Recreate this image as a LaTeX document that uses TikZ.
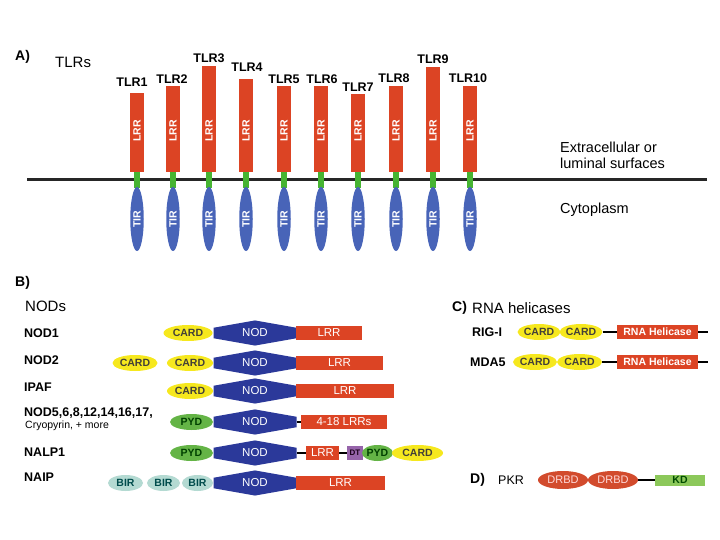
\documentclass[tikz,border=0pt]{standalone}
\usepackage{fontspec}
\setmainfont{Liberation Sans}
\usetikzlibrary{shapes.geometric,shapes.symbols}

\definecolor{lrrred}{RGB}{220,68,36}
\definecolor{nodblue}{RGB}{43,57,154}
\definecolor{tirblue}{RGB}{72,100,184}
\definecolor{tmgreen}{RGB}{70,180,50}
\definecolor{cardyellow}{RGB}{246,232,30}
\definecolor{pydgreen}{RGB}{100,180,70}
\definecolor{birteal}{RGB}{180,218,210}
\definecolor{dtpurple}{RGB}{150,100,170}
\definecolor{kdgreen}{RGB}{140,200,90}
\definecolor{drbdred}{RGB}{210,75,45}

\tikzstyle{head} = [anchor=west, inner sep=0pt, font=\bfseries\fontsize{14}{16}\selectfont]
\tikzstyle{title} = [anchor=west, inner sep=0pt, font=\fontsize{15}{17}\selectfont]
\tikzstyle{tlrname} = [inner sep=0pt, font=\bfseries\fontsize{12.5}{14}\selectfont]
\tikzstyle{rowname} = [anchor=west, inner sep=0pt, font=\bfseries\fontsize{12.5}{15}\selectfont]
\tikzstyle{lrr} = [rectangle, fill=lrrred, minimum width=14pt, inner sep=0pt, anchor=south]
\tikzstyle{vtext} = [rotate=90, inner sep=0pt, text=white, font=\bfseries\fontsize{10.5}{11}\selectfont]
\tikzstyle{tm} = [rectangle, fill=tmgreen, minimum width=6.5pt, minimum height=16pt, inner sep=0pt]
\tikzstyle{tir} = [ellipse, fill=tirblue, minimum width=64pt, minimum height=13.5pt, inner sep=0pt, rotate=90, text=white, font=\bfseries\fontsize{10.5}{11}\selectfont]
\tikzstyle{dom} = [inner sep=0pt, font=\bfseries\fontsize{10.5}{12}\selectfont]
\tikzstyle{card} = [dom, ellipse, fill=cardyellow, minimum height=16pt, text=black!85!yellow]
\tikzstyle{pyd} = [dom, ellipse, fill=pydgreen, minimum height=16pt, text=black!75!green]
\tikzstyle{bir} = [dom, ellipse, fill=birteal, minimum height=16pt, text=teal!60!black]
\tikzstyle{nod} = [dom, signal, signal to=north and south, signal pointer angle=160, fill=nodblue, minimum width=83pt, minimum height=15pt, text=white, font=\fontsize{11.5}{12}\selectfont]
\tikzstyle{box} = [dom, rectangle, fill=lrrred, minimum height=14pt, text=white, font=\fontsize{11.5}{12}\selectfont]
\tikzstyle{link} = [line width=2.5pt, black]

\begin{document}
\begin{tikzpicture}[x=1pt, y=-1pt]
	\useasboundingbox (0,0) rectangle (720,540);
	% A) TLRs
	\node[head] (la) at (15,57) {A)};
	\node[title] (tlrs) at (55,62) {TLRs};
	\coordinate (memL) at (27,180);
	\coordinate (memR) at (707,180);
	\draw[line width=3pt, black!85] (memL) -- (memR);
	\node[title, align=left, font=\fontsize{14.5}{16}\selectfont] (extra) at (560,155) {Extracellular or\\luminal surfaces};
	\node[title, font=\fontsize{14.5}{16}\selectfont] (cyto) at (560,210) {Cytoplasm};

	\node[lrr, minimum height=79pt] (t1) at (137,172) {};
	\node[vtext] (t1txt) at (137,131) {LRR};
	\node[tm] (t1tm) at (137,180) {};
	\node[tir] (t1tir) at (137,219) {TIR};
	\node[tlrname] (t1lab) at (132,82) {TLR1};

	\node[lrr, minimum height=86pt] (t2) at (173,172) {};
	\node[vtext] (t2txt) at (173,131) {LRR};
	\node[tm] (t2tm) at (173,180) {};
	\node[tir] (t2tir) at (173,219) {TIR};
	\node[tlrname] (t2lab) at (172,79) {TLR2};

	\node[lrr, minimum height=106pt] (t3) at (209,172) {};
	\node[vtext] (t3txt) at (209,131) {LRR};
	\node[tm] (t3tm) at (209,180) {};
	\node[tir] (t3tir) at (209,219) {TIR};
	\node[tlrname] (t3lab) at (209,58) {TLR3};

	\node[lrr, minimum height=93pt] (t4) at (246,172) {};
	\node[vtext] (t4txt) at (246,131) {LRR};
	\node[tm] (t4tm) at (246,180) {};
	\node[tir] (t4tir) at (246,219) {TIR};
	\node[tlrname] (t4lab) at (247,67) {TLR4};

	\node[lrr, minimum height=86pt] (t5) at (284,172) {};
	\node[vtext] (t5txt) at (284,131) {LRR};
	\node[tm] (t5tm) at (284,180) {};
	\node[tir] (t5tir) at (284,219) {TIR};
	\node[tlrname] (t5lab) at (284,79) {TLR5};

	\node[lrr, minimum height=86pt] (t6) at (321,172) {};
	\node[vtext] (t6txt) at (321,131) {LRR};
	\node[tm] (t6tm) at (321,180) {};
	\node[tir] (t6tir) at (321,219) {TIR};
	\node[tlrname] (t6lab) at (322,79) {TLR6};

	\node[lrr, minimum height=78pt] (t7) at (358,172) {};
	\node[vtext] (t7txt) at (358,131) {LRR};
	\node[tm] (t7tm) at (358,180) {};
	\node[tir] (t7tir) at (358,219) {TIR};
	\node[tlrname] (t7lab) at (358,87) {TLR7};

	\node[lrr, minimum height=86pt] (t8) at (396,172) {};
	\node[vtext] (t8txt) at (396,131) {LRR};
	\node[tm] (t8tm) at (396,180) {};
	\node[tir] (t8tir) at (396,219) {TIR};
	\node[tlrname] (t8lab) at (394,78) {TLR8};

	\node[lrr, minimum height=105pt] (t9) at (433,172) {};
	\node[vtext] (t9txt) at (433,131) {LRR};
	\node[tm] (t9tm) at (433,180) {};
	\node[tir] (t9tir) at (433,219) {TIR};
	\node[tlrname] (t9lab) at (433,59) {TLR9};

	\node[lrr, minimum height=86pt] (t10) at (470,172) {};
	\node[vtext] (t10txt) at (470,131) {LRR};
	\node[tm] (t10tm) at (470,180) {};
	\node[tir] (t10tir) at (470,219) {TIR};
	\node[tlrname] (t10lab) at (468,78) {TLR10};

	% B) NODs
	\node[head] (lb) at (15,283) {B)};
	\node[title] (nods) at (25,306) {NODs};
	\node[rowname] (r1) at (24,333) {NOD1};
	\node[rowname] (r2) at (24,360) {NOD2};
	\node[rowname] (r3) at (24,387) {IPAF};
	\node[rowname] (r4) at (24,413) {NOD5,6,8,12,14,16,17,};
	\node[rowname, font=\fontsize{10.5}{12}\selectfont] (r4b) at (25,426) {Cryopyrin, + more};
	\node[rowname] (r5) at (24,452) {NALP1};
	\node[rowname] (r6) at (24,477) {NAIP};

	\node[card, minimum width=49pt] (c1) at (188,333) {CARD};
	\node[nod] (n1) at (255,333) {NOD};
	\node[box, minimum width=66pt] (l1) at (329,333) {LRR};

	\node[card, minimum width=45pt] (c2a) at (135,363) {CARD};
	\node[card, minimum width=46pt] (c2b) at (190,363) {CARD};
	\node[nod] (n2) at (255,363) {NOD};
	\node[box, minimum width=87pt] (l2) at (339.5,363) {LRR};

	\node[card, minimum width=46pt] (c3) at (190,391) {CARD};
	\node[nod] (n3) at (255,391) {NOD};
	\node[box, minimum width=98pt] (l3) at (345,391) {LRR};

	\node[pyd, minimum width=43pt] (p4) at (191.5,422) {PYD};
	\node[nod] (n4) at (255,422) {NOD};
	\node[box, minimum width=86pt] (l4) at (344,422) {4-18 LRRs};
	\draw[link] (n4.east) -- (l4.west);

	\node[pyd, minimum width=43pt] (p5) at (191.5,453) {PYD};
	\node[nod] (n5) at (255,453) {NOD};
	\node[box, minimum width=33pt] (l5) at (322.5,453) {LRR};
	\node[dom, rectangle, fill=dtpurple, minimum width=16pt, minimum height=14pt, font=\bfseries\fontsize{8}{9}\selectfont, text=black!80!violet] (dt5) at (355,453) {DT};
	\node[pyd, minimum width=31pt] (p5b) at (377.5,453) {PYD};
	\node[card, minimum width=51pt] (c5) at (417.5,453) {CARD};
	\draw[link] (n5.east) -- (l5.west);
	\draw[link] (l5.east) -- (dt5.west);

	\node[bir, minimum width=35pt] (b6a) at (125.5,483) {BIR};
	\node[bir, minimum width=33pt] (b6b) at (163.5,483) {BIR};
	\node[bir, minimum width=31pt] (b6c) at (197.5,483) {BIR};
	\node[nod] (n6) at (255,483) {NOD};
	\node[box, minimum width=89pt] (l6) at (340.5,483) {LRR};

	% C) RNA helicases
	\node[head] (lc) at (452,308) {C)};
	\node[title] (rnah) at (472,308) {RNA helicases};
	\node[rowname] (rig) at (472,332) {RIG-I};
	\node[rowname] (mda) at (470,362) {MDA5};

	\node[card, minimum width=42pt] (rc1) at (539,332) {CARD};
	\node[card, minimum width=42pt] (rc2) at (581,332) {CARD};
	\node[box, minimum width=81pt, font=\bfseries\fontsize{10.5}{12}\selectfont] (rh) at (657.5,332) {RNA Helicase};
	\coordinate (rend) at (708,332);
	\draw[link] (rc2.east) -- (rh.west);
	\draw[link] (rh.east) -- (rend);

	\node[card, minimum width=44pt] (mc1) at (535,362) {CARD};
	\node[card, minimum width=45pt] (mc2) at (579.5,362) {CARD};
	\node[box, minimum width=81pt, font=\bfseries\fontsize{10.5}{12}\selectfont] (mh) at (657.5,362) {RNA Helicase};
	\coordinate (mend) at (708,362);
	\draw[link] (mc2.east) -- (mh.west);
	\draw[link] (mh.east) -- (mend);

	% D) PKR
	\node[head] (ld) at (470,480) {D)};
	\node[rowname, font=\fontsize{12.5}{14}\selectfont] (pkr) at (498,480) {PKR};
	\node[dom, ellipse, fill=drbdred, minimum width=50pt, minimum height=18pt, text=red!15, font=\fontsize{11}{12}\selectfont] (d1) at (563,480) {DRBD};
	\node[dom, ellipse, fill=drbdred, minimum width=50pt, minimum height=18pt, text=red!15, font=\fontsize{11}{12}\selectfont] (d2) at (613,480) {DRBD};
	\node[dom, rectangle, fill=kdgreen, minimum width=50pt, minimum height=11pt, text=black!70!green] (kd) at (680,480) {KD};
	\draw[link] (d2.east) -- (kd.west);
\end{tikzpicture}
\end{document}
